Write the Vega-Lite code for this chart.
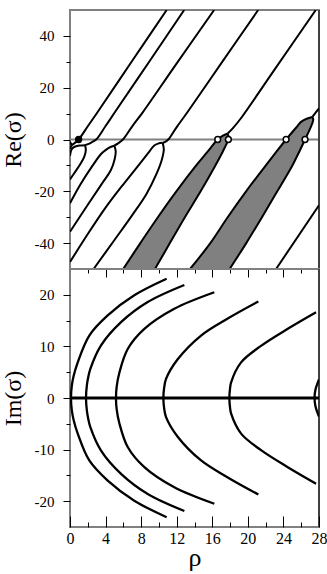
{
  "$schema": "https://vega.github.io/schema/vega-lite/v6.json",
  "padding": {"left": 0, "top": 8, "right": 0, "bottom": 0},
  "background": "white",
  "spacing": 0,
  "bounds": "flush",
  "config": {
    "view": {"stroke": "#808080", "strokeWidth": 2},
    "font": "Liberation Serif",
    "axis": {"labelFont": "Liberation Serif", "titleFont": "Liberation Serif", "labelColor": "black", "titleColor": "black", "tickColor": "black", "tickWidth": 1, "domain": false, "grid": false, "titleFontWeight": "normal", "labelFlush": false}
  },
  "datasets": {
    "lines": [
      {"s": "m0u", "o": 0, "rho": 0, "re": -0.8}, {"s": "m0u", "o": 1, "rho": 0.19, "re": -2.2},
      {"s": "m0l", "o": 0, "rho": 0, "re": -3.6}, {"s": "m0l", "o": 1, "rho": 0.19, "re": -2.2},
      {"s": "A", "o": 0, "rho": 0.19, "re": -2.2}, {"s": "A", "o": 1, "rho": 0.55, "re": -1.3}, {"s": "A", "o": 2, "rho": 0.97, "re": 0}, {"s": "A", "o": 3, "rho": 2, "re": 5.1}, {"s": "A", "o": 4, "rho": 3.11, "re": 10.6}, {"s": "A", "o": 5, "rho": 7, "re": 30.4}, {"s": "A", "o": 6, "rho": 10.87, "re": 50},
      {"s": "m1u", "o": 0, "rho": 0, "re": -6.3}, {"s": "m1u", "o": 1, "rho": 0.12, "re": -4.3}, {"s": "m1u", "o": 2, "rho": 0.3, "re": -3.3}, {"s": "m1u", "o": 3, "rho": 0.6, "re": -2.7}, {"s": "m1u", "o": 4, "rho": 1.1, "re": -2.35}, {"s": "m1u", "o": 5, "rho": 1.69, "re": -2.2},
      {"s": "m1l", "o": 0, "rho": 1.69, "re": -2.2}, {"s": "m1l", "o": 1, "rho": 1.78, "re": -4}, {"s": "m1l", "o": 2, "rho": 1.62, "re": -6.5}, {"s": "m1l", "o": 3, "rho": 1.2, "re": -9.3}, {"s": "m1l", "o": 4, "rho": 0.6, "re": -12.4}, {"s": "m1l", "o": 5, "rho": 0, "re": -15.4},
      {"s": "B", "o": 0, "rho": 1.69, "re": -2.2}, {"s": "B", "o": 1, "rho": 2.1, "re": -1.7}, {"s": "B", "o": 2, "rho": 2.5, "re": -0.95}, {"s": "B", "o": 3, "rho": 2.95, "re": 0}, {"s": "B", "o": 4, "rho": 4, "re": 5.2}, {"s": "B", "o": 5, "rho": 5.06, "re": 10.6}, {"s": "B", "o": 6, "rho": 9, "re": 30.5}, {"s": "B", "o": 7, "rho": 12.84, "re": 50},
      {"s": "m2u", "o": 0, "rho": 4.98, "re": -2.4}, {"s": "m2u", "o": 1, "rho": 4.5, "re": -3.0}, {"s": "m2u", "o": 2, "rho": 4.0, "re": -4.1}, {"s": "m2u", "o": 3, "rho": 3.49, "re": -5.6}, {"s": "m2u", "o": 4, "rho": 2.5, "re": -10.3}, {"s": "m2u", "o": 5, "rho": 1.2, "re": -17.2}, {"s": "m2u", "o": 6, "rho": 0, "re": -24.6},
      {"s": "m2l", "o": 0, "rho": 4.98, "re": -2.4}, {"s": "m2l", "o": 1, "rho": 5.14, "re": -4.5}, {"s": "m2l", "o": 2, "rho": 5.02, "re": -7.6}, {"s": "m2l", "o": 3, "rho": 4.6, "re": -11.8}, {"s": "m2l", "o": 4, "rho": 3.5, "re": -17.5}, {"s": "m2l", "o": 5, "rho": 2, "re": -25.2}, {"s": "m2l", "o": 6, "rho": 0, "re": -35.6},
      {"s": "C", "o": 0, "rho": 4.98, "re": -2.4}, {"s": "C", "o": 1, "rho": 5.45, "re": -1.4}, {"s": "C", "o": 2, "rho": 5.95, "re": 0}, {"s": "C", "o": 3, "rho": 7, "re": 5.1}, {"s": "C", "o": 4, "rho": 8.2, "re": 10.6}, {"s": "C", "o": 5, "rho": 12, "re": 29.4}, {"s": "C", "o": 6, "rho": 16.21, "re": 50},
      {"s": "m3u", "o": 0, "rho": 10.42, "re": -1.3}, {"s": "m3u", "o": 1, "rho": 9.9, "re": -1.6}, {"s": "m3u", "o": 2, "rho": 9.48, "re": -2.3}, {"s": "m3u", "o": 3, "rho": 8.8, "re": -5.2}, {"s": "m3u", "o": 4, "rho": 7.99, "re": -8.7}, {"s": "m3u", "o": 5, "rho": 6.49, "re": -15.2}, {"s": "m3u", "o": 6, "rho": 5.74, "re": -18.4}, {"s": "m3u", "o": 7, "rho": 4, "re": -26.3}, {"s": "m3u", "o": 8, "rho": 2, "re": -36.5}, {"s": "m3u", "o": 9, "rho": 0, "re": -47.3},
      {"s": "m3l", "o": 0, "rho": 10.42, "re": -1.3}, {"s": "m3l", "o": 1, "rho": 10.55, "re": -3.8}, {"s": "m3l", "o": 2, "rho": 10.35, "re": -7.5}, {"s": "m3l", "o": 3, "rho": 9.7, "re": -13.5}, {"s": "m3l", "o": 4, "rho": 8.6, "re": -21}, {"s": "m3l", "o": 5, "rho": 7, "re": -29.2}, {"s": "m3l", "o": 6, "rho": 5, "re": -38.8}, {"s": "m3l", "o": 7, "rho": 2.65, "re": -50},
      {"s": "D", "o": 0, "rho": 10.42, "re": -1.3}, {"s": "D", "o": 1, "rho": 10.75, "re": -0.8}, {"s": "D", "o": 2, "rho": 11.05, "re": 0}, {"s": "D", "o": 3, "rho": 12, "re": 4.8}, {"s": "D", "o": 4, "rho": 13.24, "re": 10.7}, {"s": "D", "o": 5, "rho": 17, "re": 29.4}, {"s": "D", "o": 6, "rho": 21.16, "re": 50},
      {"s": "m4u", "o": 0, "rho": 17.7, "re": 2.2}, {"s": "m4u", "o": 1, "rho": 17.2, "re": 1.5}, {"s": "m4u", "o": 2, "rho": 16.61, "re": 0}, {"s": "m4u", "o": 3, "rho": 15.4, "re": -5}, {"s": "m4u", "o": 4, "rho": 14.19, "re": -10}, {"s": "m4u", "o": 5, "rho": 11.96, "re": -20}, {"s": "m4u", "o": 6, "rho": 9.88, "re": -30}, {"s": "m4u", "o": 7, "rho": 7.91, "re": -40}, {"s": "m4u", "o": 8, "rho": 5.98, "re": -50},
      {"s": "m4l", "o": 0, "rho": 17.7, "re": 2.2}, {"s": "m4l", "o": 1, "rho": 17.85, "re": 1.0}, {"s": "m4l", "o": 2, "rho": 17.81, "re": 0}, {"s": "m4l", "o": 3, "rho": 17.13, "re": -5}, {"s": "m4l", "o": 4, "rho": 16.35, "re": -10}, {"s": "m4l", "o": 5, "rho": 14.69, "re": -20}, {"s": "m4l", "o": 6, "rho": 12.92, "re": -30}, {"s": "m4l", "o": 7, "rho": 11.23, "re": -40}, {"s": "m4l", "o": 8, "rho": 9.55, "re": -50},
      {"s": "E", "o": 0, "rho": 17.7, "re": 2.2}, {"s": "E", "o": 1, "rho": 18.3, "re": 4.3}, {"s": "E", "o": 2, "rho": 19.2, "re": 8.1}, {"s": "E", "o": 3, "rho": 23, "re": 27}, {"s": "E", "o": 4, "rho": 27.64, "re": 50},
      {"s": "m5u", "o": 0, "rho": 27.25, "re": 8.7}, {"s": "m5u", "o": 1, "rho": 26.6, "re": 8.0}, {"s": "m5u", "o": 2, "rho": 25.98, "re": 6.8}, {"s": "m5u", "o": 3, "rho": 25.53, "re": 5}, {"s": "m5u", "o": 4, "rho": 24.3, "re": 0}, {"s": "m5u", "o": 5, "rho": 23.15, "re": -5}, {"s": "m5u", "o": 6, "rho": 22.02, "re": -10}, {"s": "m5u", "o": 7, "rho": 19.8, "re": -20}, {"s": "m5u", "o": 8, "rho": 17.73, "re": -30}, {"s": "m5u", "o": 9, "rho": 15.78, "re": -40}, {"s": "m5u", "o": 10, "rho": 13.5, "re": -50},
      {"s": "m5l", "o": 0, "rho": 27.25, "re": 8.7}, {"s": "m5l", "o": 1, "rho": 27.35, "re": 7.8}, {"s": "m5l", "o": 2, "rho": 27.3, "re": 6.8}, {"s": "m5l", "o": 3, "rho": 27.1, "re": 5}, {"s": "m5l", "o": 4, "rho": 26.43, "re": 0}, {"s": "m5l", "o": 5, "rho": 25.74, "re": -5}, {"s": "m5l", "o": 6, "rho": 25.01, "re": -10}, {"s": "m5l", "o": 7, "rho": 23.31, "re": -20}, {"s": "m5l", "o": 8, "rho": 21.59, "re": -30}, {"s": "m5l", "o": 9, "rho": 19.82, "re": -40}, {"s": "m5l", "o": 10, "rho": 17.95, "re": -50},
      {"s": "F", "o": 0, "rho": 27.25, "re": 8.7}, {"s": "F", "o": 1, "rho": 27.6, "re": 10.3}, {"s": "F", "o": 2, "rho": 28, "re": 12},
      {"s": "G", "o": 0, "rho": 23.17, "re": -50}, {"s": "G", "o": 1, "rho": 28, "re": -25.4}
    ],
    "shade": [
      {"region": 1, "re": -50, "left": 5.98, "right": 9.55}, {"region": 1, "re": -40, "left": 7.91, "right": 11.23}, {"region": 1, "re": -30, "left": 9.88, "right": 12.92}, {"region": 1, "re": -20, "left": 11.96, "right": 14.69}, {"region": 1, "re": -10, "left": 14.19, "right": 16.35}, {"region": 1, "re": -5, "left": 15.4, "right": 17.13}, {"region": 1, "re": 0, "left": 16.61, "right": 17.81}, {"region": 1, "re": 1.0, "left": 17.0, "right": 17.85}, {"region": 1, "re": 1.5, "left": 17.2, "right": 17.83}, {"region": 1, "re": 2.2, "left": 17.7, "right": 17.7},
      {"region": 2, "re": -50, "left": 13.5, "right": 17.95}, {"region": 2, "re": -40, "left": 15.78, "right": 19.82}, {"region": 2, "re": -30, "left": 17.73, "right": 21.59}, {"region": 2, "re": -20, "left": 19.8, "right": 23.31}, {"region": 2, "re": -10, "left": 22.02, "right": 25.01}, {"region": 2, "re": -5, "left": 23.15, "right": 25.74}, {"region": 2, "re": 0, "left": 24.3, "right": 26.43}, {"region": 2, "re": 5, "left": 25.53, "right": 27.1}, {"region": 2, "re": 6.8, "left": 25.98, "right": 27.3}, {"region": 2, "re": 8.0, "left": 26.6, "right": 27.35}, {"region": 2, "re": 8.7, "left": 27.25, "right": 27.25}
    ],
    "pts": [
      {"rho": 0.97, "re": 0, "kind": "onset"},
      {"rho": 16.61, "re": 0, "kind": "cross"}, {"rho": 17.81, "re": 0, "kind": "cross"},
      {"rho": 24.3, "re": 0, "kind": "cross"}, {"rho": 26.43, "re": 0, "kind": "cross"}
    ],
    "im": [
      {"s": "i0", "o": 0, "rho": 10.87, "im": -23.1}, {"s": "i0", "o": 1, "rho": 7.23, "im": -19.9}, {"s": "i0", "o": 2, "rho": 4.24, "im": -16.0}, {"s": "i0", "o": 3, "rho": 2.17, "im": -12.1}, {"s": "i0", "o": 4, "rho": 0.87, "im": -6.9}, {"s": "i0", "o": 5, "rho": 0.4, "im": -4.2}, {"s": "i0", "o": 6, "rho": 0.2, "im": -2.3}, {"s": "i0", "o": 7, "rho": 0.11, "im": 0}, {"s": "i0", "o": 8, "rho": 0.2, "im": 2.3}, {"s": "i0", "o": 9, "rho": 0.4, "im": 4.2}, {"s": "i0", "o": 10, "rho": 0.87, "im": 6.9}, {"s": "i0", "o": 11, "rho": 2.17, "im": 12.1}, {"s": "i0", "o": 12, "rho": 4.24, "im": 16.0}, {"s": "i0", "o": 13, "rho": 7.23, "im": 19.9}, {"s": "i0", "o": 14, "rho": 10.87, "im": 23.1},
      {"s": "i1", "o": 0, "rho": 12.86, "im": -21.9}, {"s": "i1", "o": 1, "rho": 8.74, "im": -18.6}, {"s": "i1", "o": 2, "rho": 5.74, "im": -14.7}, {"s": "i1", "o": 3, "rho": 3.49, "im": -10.2}, {"s": "i1", "o": 4, "rho": 2.28, "im": -5.6}, {"s": "i1", "o": 5, "rho": 2.05, "im": -4.0}, {"s": "i1", "o": 6, "rho": 1.9, "im": -2.5}, {"s": "i1", "o": 7, "rho": 1.8, "im": 0}, {"s": "i1", "o": 8, "rho": 1.9, "im": 2.5}, {"s": "i1", "o": 9, "rho": 2.05, "im": 4.0}, {"s": "i1", "o": 10, "rho": 2.28, "im": 5.6}, {"s": "i1", "o": 11, "rho": 3.49, "im": 10.2}, {"s": "i1", "o": 12, "rho": 5.74, "im": 14.7}, {"s": "i1", "o": 13, "rho": 8.74, "im": 18.6}, {"s": "i1", "o": 14, "rho": 12.86, "im": 21.9},
      {"s": "i2", "o": 0, "rho": 16.23, "im": -20.5}, {"s": "i2", "o": 1, "rho": 11.73, "im": -17.3}, {"s": "i2", "o": 2, "rho": 8.36, "im": -13.4}, {"s": "i2", "o": 3, "rho": 6.49, "im": -9.5}, {"s": "i2", "o": 4, "rho": 5.55, "im": -4.9}, {"s": "i2", "o": 5, "rho": 5.25, "im": -2.2}, {"s": "i2", "o": 6, "rho": 5.17, "im": 0}, {"s": "i2", "o": 7, "rho": 5.25, "im": 2.2}, {"s": "i2", "o": 8, "rho": 5.55, "im": 4.9}, {"s": "i2", "o": 9, "rho": 6.49, "im": 9.5}, {"s": "i2", "o": 10, "rho": 8.36, "im": 13.4}, {"s": "i2", "o": 11, "rho": 11.73, "im": 17.3}, {"s": "i2", "o": 12, "rho": 16.23, "im": 20.5},
      {"s": "i3", "o": 0, "rho": 21.18, "im": -18.7}, {"s": "i3", "o": 1, "rho": 17.74, "im": -15.4}, {"s": "i3", "o": 2, "rho": 14.74, "im": -12.1}, {"s": "i3", "o": 3, "rho": 12.11, "im": -7.5}, {"s": "i3", "o": 4, "rho": 10.8, "im": -3.7}, {"s": "i3", "o": 5, "rho": 10.58, "im": -1.9}, {"s": "i3", "o": 6, "rho": 10.5, "im": 0}, {"s": "i3", "o": 7, "rho": 10.58, "im": 1.9}, {"s": "i3", "o": 8, "rho": 10.8, "im": 3.7}, {"s": "i3", "o": 9, "rho": 12.11, "im": 7.5}, {"s": "i3", "o": 10, "rho": 14.74, "im": 12.1}, {"s": "i3", "o": 11, "rho": 17.74, "im": 15.4}, {"s": "i3", "o": 12, "rho": 21.18, "im": 18.7},
      {"s": "i4", "o": 0, "rho": 27.67, "im": -16.6}, {"s": "i4", "o": 1, "rho": 24.49, "im": -13.4}, {"s": "i4", "o": 2, "rho": 21.48, "im": -10.1}, {"s": "i4", "o": 3, "rho": 19.24, "im": -6.9}, {"s": "i4", "o": 4, "rho": 18.11, "im": -3.0}, {"s": "i4", "o": 5, "rho": 18.0, "im": -1.9}, {"s": "i4", "o": 6, "rho": 17.92, "im": 0}, {"s": "i4", "o": 7, "rho": 18.0, "im": 1.9}, {"s": "i4", "o": 8, "rho": 18.11, "im": 3.0}, {"s": "i4", "o": 9, "rho": 19.24, "im": 6.9}, {"s": "i4", "o": 10, "rho": 21.48, "im": 10.1}, {"s": "i4", "o": 11, "rho": 24.49, "im": 13.4}, {"s": "i4", "o": 12, "rho": 27.67, "im": 16.6},
      {"s": "i5", "o": 0, "rho": 28, "im": -3.6}, {"s": "i5", "o": 1, "rho": 27.6, "im": -1.6}, {"s": "i5", "o": 2, "rho": 27.5, "im": 0}, {"s": "i5", "o": 3, "rho": 27.6, "im": 1.6}, {"s": "i5", "o": 4, "rho": 28, "im": 3.6}
    ]
  },
  "vconcat": [
    {
      "width": 249,
      "height": 259,
      "layer": [
        {
          "data": {"name": "shade"},
          "mark": {"type": "area", "orient": "horizontal", "color": "#808080", "opacity": 1, "clip": true},
          "encoding": {
            "y": {"field": "re", "type": "quantitative", "scale": {"domain": [-50, 50], "nice": false, "zero": false},
              "axis": {"values": [-40, -30, -20, -10, 0, 10, 20, 30, 40], "labelExpr": "datum.value % 20 === 0 ? '' + datum.value : ''", "labelOverlap": false, "ticks": true, "tickSize": {"condition": {"test": "datum.value % 20 === 0", "value": 7}, "value": 4}, "labelFontSize": 15, "labelPadding": 9, "title": "Re(σ)", "titleFontSize": 24, "titleAngle": 270, "titleX": -57, "titleY": 129.5, "titleAlign": "center", "titleBaseline": "middle"}},
            "x": {"field": "left", "type": "quantitative", "scale": {"domain": [0, 28], "nice": false, "zero": false},
              "axis": {"orient": "bottom", "values": [0, 2, 4, 6, 8, 10, 12, 14, 16, 18, 20, 22, 24, 26, 28], "labels": false, "labelOverlap": false, "ticks": true, "tickSize": {"condition": {"test": "datum.value % 4 === 0", "value": 8}, "value": 4}, "title": null}},
            "x2": {"field": "right"},
            "detail": {"field": "region", "type": "nominal"}
          }
        },
        {
          "data": {"values": [{"z": 0}]},
          "mark": {"type": "rule", "color": "#808080", "strokeWidth": 2},
          "encoding": {
            "y": {"field": "z", "type": "quantitative", "scale": {"domain": [-50, 50], "nice": false, "zero": false},
              "axis": {"values": [-40, -30, -20, -10, 0, 10, 20, 30, 40], "labelExpr": "datum.value % 20 === 0 ? '' + datum.value : ''", "labelOverlap": false, "ticks": true, "tickSize": {"condition": {"test": "datum.value % 20 === 0", "value": 7}, "value": 4}, "labelFontSize": 15, "labelPadding": 9, "title": "Re(σ)", "titleFontSize": 24, "titleAngle": 270, "titleX": -57, "titleY": 129.5, "titleAlign": "center", "titleBaseline": "middle"}}
          }
        },
        {
          "data": {"name": "lines"},
          "mark": {"type": "line", "color": "black", "strokeWidth": 2, "interpolate": "catmull-rom", "clip": true},
          "encoding": {
            "x": {"field": "rho", "type": "quantitative", "scale": {"domain": [0, 28], "nice": false, "zero": false},
              "axis": {"orient": "bottom", "values": [0, 2, 4, 6, 8, 10, 12, 14, 16, 18, 20, 22, 24, 26, 28], "labels": false, "labelOverlap": false, "ticks": true, "tickSize": {"condition": {"test": "datum.value % 4 === 0", "value": 8}, "value": 4}, "title": null}},
            "y": {"field": "re", "type": "quantitative", "scale": {"domain": [-50, 50], "nice": false, "zero": false},
              "axis": {"values": [-40, -30, -20, -10, 0, 10, 20, 30, 40], "labelExpr": "datum.value % 20 === 0 ? '' + datum.value : ''", "labelOverlap": false, "ticks": true, "tickSize": {"condition": {"test": "datum.value % 20 === 0", "value": 7}, "value": 4}, "labelFontSize": 15, "labelPadding": 9, "title": "Re(σ)", "titleFontSize": 24, "titleAngle": 270, "titleX": -57, "titleY": 129.5, "titleAlign": "center", "titleBaseline": "middle"}},
            "detail": {"field": "s", "type": "nominal"},
            "order": {"field": "o", "type": "quantitative"}
          }
        },
        {
          "data": {"name": "pts"},
          "mark": {"type": "point", "filled": true, "size": 34, "stroke": "black", "strokeWidth": 1.5, "opacity": 1},
          "encoding": {
            "x": {"field": "rho", "type": "quantitative", "scale": {"domain": [0, 28], "nice": false, "zero": false},
              "axis": {"orient": "bottom", "values": [0, 2, 4, 6, 8, 10, 12, 14, 16, 18, 20, 22, 24, 26, 28], "labels": false, "labelOverlap": false, "ticks": true, "tickSize": {"condition": {"test": "datum.value % 4 === 0", "value": 8}, "value": 4}, "title": null}},
            "y": {"field": "re", "type": "quantitative", "scale": {"domain": [-50, 50], "nice": false, "zero": false},
              "axis": {"values": [-40, -30, -20, -10, 0, 10, 20, 30, 40], "labelExpr": "datum.value % 20 === 0 ? '' + datum.value : ''", "labelOverlap": false, "ticks": true, "tickSize": {"condition": {"test": "datum.value % 20 === 0", "value": 7}, "value": 4}, "labelFontSize": 15, "labelPadding": 9, "title": "Re(σ)", "titleFontSize": 24, "titleAngle": 270, "titleX": -57, "titleY": 129.5, "titleAlign": "center", "titleBaseline": "middle"}},
            "fill": {"field": "kind", "type": "nominal", "scale": {"domain": ["onset", "cross"], "range": ["black", "white"]}, "legend": null}
          }
        },
        {
          "data": {"values": [{"edge": 28}]},
          "mark": {"type": "rule", "color": "black", "strokeWidth": 1},
          "encoding": {
            "x": {"field": "edge", "type": "quantitative", "scale": {"domain": [0, 28], "nice": false, "zero": false},
              "axis": {"orient": "bottom", "values": [0, 2, 4, 6, 8, 10, 12, 14, 16, 18, 20, 22, 24, 26, 28], "labels": false, "labelOverlap": false, "ticks": true, "tickSize": {"condition": {"test": "datum.value % 4 === 0", "value": 8}, "value": 4}, "title": null}}
          }
        }
      ]
    },
    {
      "width": 249,
      "height": 258,
      "layer": [
        {
          "data": {"name": "im"},
          "mark": {"type": "line", "color": "black", "strokeWidth": 2.3, "interpolate": "catmull-rom", "clip": true},
          "encoding": {
            "x": {"field": "rho", "type": "quantitative", "scale": {"domain": [0, 28], "nice": false, "zero": false},
              "axis": {"orient": "bottom", "values": [0, 2, 4, 6, 8, 10, 12, 14, 16, 18, 20, 22, 24, 26, 28], "labelExpr": "datum.value % 4 === 0 ? '' + datum.value : ''", "labelOverlap": false, "ticks": true, "tickSize": {"condition": {"test": "datum.value % 4 === 0", "value": -11}, "value": -5}, "labelFontSize": 16, "labelPadding": 14, "title": "ρ", "titleFontSize": 26, "titleBaseline": "alphabetic", "titleY": 38, "titleX": 124.5, "titleAlign": "center"}},
            "y": {"field": "im", "type": "quantitative", "scale": {"domain": [-25, 25], "nice": false, "zero": false},
              "axis": {"values": [-20, -15, -10, -5, 0, 5, 10, 15, 20], "labelExpr": "datum.value % 10 === 0 ? '' + datum.value : ''", "labelOverlap": false, "ticks": true, "tickSize": {"condition": {"test": "datum.value % 10 === 0", "value": 7}, "value": 4}, "labelFontSize": 15, "labelPadding": 9, "title": "Im(σ)", "titleFontSize": 24, "titleAngle": 270, "titleX": -57, "titleY": 129, "titleAlign": "center", "titleBaseline": "middle"}},
            "detail": {"field": "s", "type": "nominal"},
            "order": {"field": "o", "type": "quantitative"}
          }
        },
        {
          "data": {"values": [{"a": 0, "b": 28, "z": 0}]},
          "mark": {"type": "rule", "color": "black", "strokeWidth": 3},
          "encoding": {
            "x": {"field": "a", "type": "quantitative", "scale": {"domain": [0, 28], "nice": false, "zero": false},
              "axis": {"orient": "bottom", "values": [0, 2, 4, 6, 8, 10, 12, 14, 16, 18, 20, 22, 24, 26, 28], "labelExpr": "datum.value % 4 === 0 ? '' + datum.value : ''", "labelOverlap": false, "ticks": true, "tickSize": {"condition": {"test": "datum.value % 4 === 0", "value": -11}, "value": -5}, "labelFontSize": 16, "labelPadding": 14, "title": "ρ", "titleFontSize": 26, "titleBaseline": "alphabetic", "titleY": 38, "titleX": 124.5, "titleAlign": "center"}},
            "x2": {"field": "b"},
            "y": {"field": "z", "type": "quantitative", "scale": {"domain": [-25, 25], "nice": false, "zero": false},
              "axis": {"values": [-20, -15, -10, -5, 0, 5, 10, 15, 20], "labelExpr": "datum.value % 10 === 0 ? '' + datum.value : ''", "labelOverlap": false, "ticks": true, "tickSize": {"condition": {"test": "datum.value % 10 === 0", "value": 7}, "value": 4}, "labelFontSize": 15, "labelPadding": 9, "title": "Im(σ)", "titleFontSize": 24, "titleAngle": 270, "titleX": -57, "titleY": 129, "titleAlign": "center", "titleBaseline": "middle"}}
          }
        },
        {
          "data": {"values": [{"edge": 28}]},
          "mark": {"type": "rule", "color": "black", "strokeWidth": 1},
          "encoding": {
            "x": {"field": "edge", "type": "quantitative", "scale": {"domain": [0, 28], "nice": false, "zero": false},
              "axis": {"orient": "bottom", "values": [0, 2, 4, 6, 8, 10, 12, 14, 16, 18, 20, 22, 24, 26, 28], "labelExpr": "datum.value % 4 === 0 ? '' + datum.value : ''", "labelOverlap": false, "ticks": true, "tickSize": {"condition": {"test": "datum.value % 4 === 0", "value": -11}, "value": -5}, "labelFontSize": 16, "labelPadding": 14, "title": "ρ", "titleFontSize": 26, "titleBaseline": "alphabetic", "titleY": 38, "titleX": 124.5, "titleAlign": "center"}}
          }
        }
      ]
    }
  ]
}
